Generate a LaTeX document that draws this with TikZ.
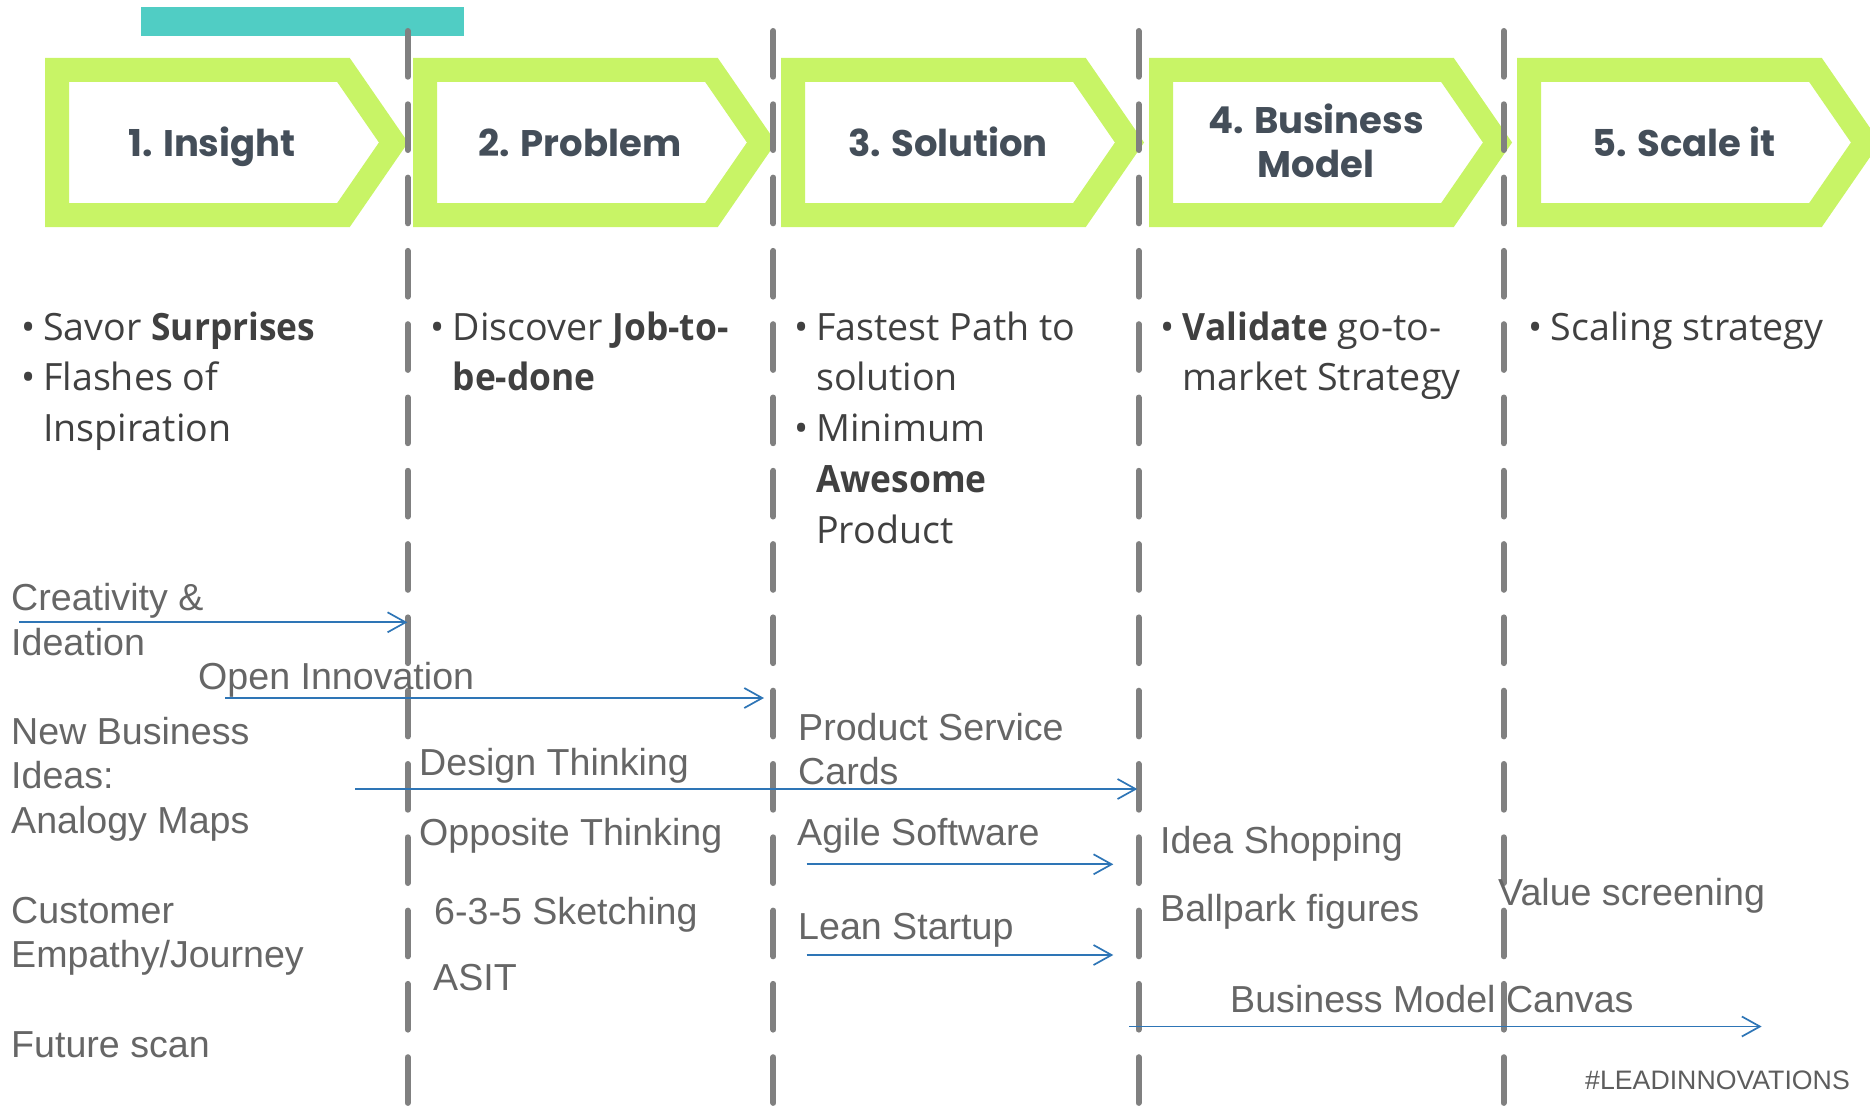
\documentclass[tikz,border=0pt]{standalone}
\usepackage{fontspec}
\usepackage{tikz}
\usetikzlibrary{arrows.meta, positioning}
\setmainfont{Liberation Sans}
\newfontfamily\headfont{Poppins}
\newfontfamily\bulletfont{Open Sans}[BoldFeatures={FakeStretch=0.94}]
\definecolor{chevroncolor}{RGB}{200, 244, 102}
\definecolor{tealcolor}{RGB}{80, 205, 196}
\definecolor{headcolor}{RGB}{68, 78, 89}
\definecolor{bulletcolor}{RGB}{64, 64, 64}
\definecolor{labelcolor}{RGB}{102, 102, 102}
\definecolor{flowcolor}{RGB}{46, 117, 182}
\definecolor{dividercolor}{RGB}{128, 128, 128}
\newcommand{\bul}{\makebox[22pt][l]{•}}
\newcommand{\hang}{\hspace*{22pt}}

\begin{document}
\begin{tikzpicture}[
    x=1pt, y=-1pt,
    chevron/.style={draw=chevroncolor, fill=white, line width=24pt, line join=miter},
    stage/.style={font=\headfont\bfseries\fontsize{37}{44}\selectfont, text=headcolor, align=center, anchor=base, inner sep=0pt},
    divider/.style={draw=dividercolor, line width=6pt, line cap=round, dash pattern=on 45.7pt off 27.6pt},
    point/.style={font=\bulletfont\fontsize{37.6}{50.8}\selectfont, text=bulletcolor, align=left, anchor=base west, inner sep=0pt},
    method/.style={font=\fontsize{37.6}{44.5}\selectfont, text=labelcolor, align=left, anchor=base west, inner sep=0pt},
    flow/.style={draw=flowcolor, line width=1.7pt, -{Straight Barb[length=18pt, width=20pt]}},
]
    \clip (0,0) rectangle (1870,1105);

    % Banner
    \node[fill=tealcolor, minimum width=323pt, minimum height=29pt, inner sep=0pt, anchor=north west] (banner) at (141,7) {};

    % Chevrons
    \draw[chevron] (57,70) -- (343.5,70) -- (393.5,142.5) -- (343.5,215) -- (57,215) -- cycle;
    \draw[chevron] (425,70) -- (711.5,70) -- (761.5,142.5) -- (711.5,215) -- (425,215) -- cycle;
    \draw[chevron] (793,70) -- (1079.5,70) -- (1129.5,142.5) -- (1079.5,215) -- (793,215) -- cycle;
    \draw[chevron] (1161,70) -- (1447.5,70) -- (1497.5,142.5) -- (1447.5,215) -- (1161,215) -- cycle;
    \draw[chevron] (1529,70) -- (1815.5,70) -- (1865.5,142.5) -- (1815.5,215) -- (1529,215) -- cycle;

    % Dividers
    \draw[divider] (407.7,31) -- (407.7,1108);
    \draw[divider] (773.4,31) -- (773.4,1108);
    \draw[divider] (1138.5,31) -- (1138.5,1108);
    \draw[divider] (1503.6,31) -- (1503.6,1108);

    % Stage titles (multi-line nodes sit on their last baseline)
    \node[stage] (insight) at (212,156) {1. Insight};
    \node[stage] (problem) at (580,156) {2. Problem};
    \node[stage] (solution) at (948,156) {3. Solution};
    \node[stage] (bizmodel) at (1316,177.5) {4. Business\\Model};
    \node[stage] (scale) at (1684,156) {5. Scale it};

    % Key points
    \node[point] (insightpts) at (21,441.6) {\bul Savor \textbf{Surprises}\\\bul Flashes of\\\hang Inspiration};
    \node[point] (problempts) at (430.5,390.8) {\bul Discover \textbf{Job-to-}\\\hang\textbf{be-done}};
    \node[point] (solutionpts) at (794,543.2) {\bul Fastest Path to\\\hang solution\\\bul Minimum\\\hang\textbf{Awesome}\\\hang Product};
    \node[point] (bizmodelpts) at (1160.7,390.8) {\bul \textbf{Validate} go-to-\\\hang market Strategy};
    \node[point] (scalepts) at (1528.7,340) {\bul Scaling strategy};

    % Methods
    \node[method] (creativity) at (11,655.2) {Creativity \&\\Ideation};
    \node[method] (openinno) at (198,689) {Open Innovation};
    \node[method] (newbiz) at (11,833) {New Business\\Ideas:\\Analogy Maps};
    \node[method] (customer) at (11,967.5) {Customer\\Empathy/Journey};
    \node[method] (future) at (11,1057.7) {Future scan};
    \node[method] (design) at (419,775) {Design Thinking};
    \node[method] (opposite) at (419,845) {Opposite Thinking};
    \node[method] (sketching) at (434,924) {6-3-5 Sketching};
    \node[method] (asit) at (433,990) {ASIT};
    \node[method] (prodcards) at (798,784.8) {Product Service\\Cards};
    \node[method] (agile) at (797,845) {Agile Software};
    \node[method] (lean) at (798,939.3) {Lean Startup};
    \node[method] (shopping) at (1160,853.3) {Idea Shopping};
    \node[method] (ballpark) at (1160,921.7) {Ballpark figures};
    \node[method] (valuescr) at (1498,905.8) {Value screening};
    \node[method] (bmcanvas) at (1230,1012.5) {Business Model Canvas};
    \node[method, font=\fontsize{26.7}{30}\selectfont, text=bulletcolor!85, anchor=base east] (hashtag) at (1850,1089) {\#LEADINNOVATIONS};

    % Reach of each method
    \coordinate (creativity-from) at (19,622.3);
    \coordinate (creativity-to) at (407.3,622.3);
    \coordinate (openinno-from) at (225.3,698);
    \coordinate (openinno-to) at (764,698);
    \coordinate (newbiz-from) at (355.3,789);
    \coordinate (newbiz-to) at (1137.3,789);
    \coordinate (agile-from) at (806.7,864.3);
    \coordinate (agile-to) at (1113.3,864.3);
    \coordinate (lean-from) at (806.7,955);
    \coordinate (lean-to) at (1113.3,955);
    \coordinate (bmcanvas-from) at (1129,1026.5);
    \coordinate (bmcanvas-to) at (1761.6,1026.5);
    \draw[flow] (creativity-from) -- (creativity-to);
    \draw[flow] (openinno-from) -- (openinno-to);
    \draw[flow] (newbiz-from) -- (newbiz-to);
    \draw[flow] (agile-from) -- (agile-to);
    \draw[flow] (lean-from) -- (lean-to);
    \draw[flow] (bmcanvas-from) -- (bmcanvas-to);

\end{tikzpicture}
\end{document}
